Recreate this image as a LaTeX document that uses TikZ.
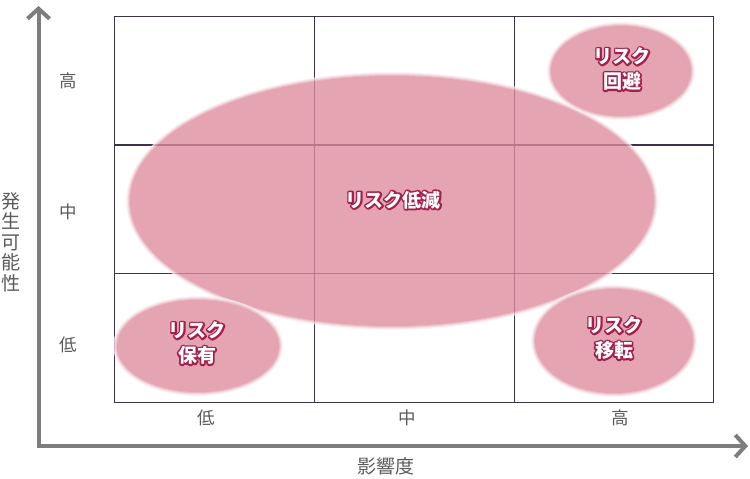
\documentclass[tikz,border=0pt]{standalone}
\usepackage{fontspec}
\setmainfont{Noto Sans CJK JP}
\usetikzlibrary{arrows.meta,calc}
\definecolor{gridc}{RGB}{61,51,73}
\definecolor{axisc}{RGB}{125,125,125}
\definecolor{pinkc}{RGB}{220,139,156}
\definecolor{txtc}{RGB}{90,90,90}
\tikzset{
  gridline/.style={draw=gridc, line width=0.9pt},
  axisline/.style={draw=axisc, line width=4pt, -{Straight Barb[length=10pt,width=22pt,line width=4pt]}},
  ticklab/.style={text=txtc, font=\fontsize{17.5}{20}\selectfont, inner sep=0pt},
  titlelab/.style={text=txtc, font=\fontsize{19}{20.5}\selectfont, inner sep=0pt, align=center},
  risklab/.style={align=center, text=white, font=\bfseries\fontsize{19}{25}\selectfont, inner sep=0pt},
  riskglow/.style={risklab},
}
\newcommand{\strk}[1]{\special{pdf:literal direct 1 Tr 3.4 w 1 j 0.64 0.12 0.30 RG}#1\special{pdf:literal direct 0 Tr}}
\newcommand{\softellipse}[3]{%
  \begin{scope}[transparency group, opacity=0.78]
    \fill[pinkc!12] #1 ellipse [x radius=#2+4pt, y radius=#3+4pt];
    \fill[pinkc!30] #1 ellipse [x radius=#2+3pt, y radius=#3+3pt];
    \fill[pinkc!52] #1 ellipse [x radius=#2+2pt, y radius=#3+2pt];
    \fill[pinkc!76] #1 ellipse [x radius=#2+1pt, y radius=#3+1pt];
    \fill[pinkc] #1 ellipse [x radius=#2, y radius=#3];
  \end{scope}}
\begin{document}
\begin{tikzpicture}[x=1pt,y=-1pt]
\useasboundingbox (0,0) rectangle (750,479);
% grid
\draw[gridline] (114,16) rectangle (713,402);
\draw[gridline] (314,16) -- (314,402);
\draw[gridline] (514,16) -- (514,402);
\draw[gridline, line width=1.8pt] (114,145) -- (713,145);
\draw[gridline] (114,273) -- (713,273);
% ellipses
\softellipse{(392,201)}{262pt}{125pt}
\softellipse{(621,71)}{70pt}{45pt}
\softellipse{(198,346)}{81pt}{46pt}
\softellipse{(614,341)}{79pt}{52pt}
% label outlines
\node[riskglow] (gred) at (393,200) {\strk{リスク低減}};
\node[riskglow] (gavo) at (622,69) {\strk{リスク}\\\strk{回避}};
\node[riskglow] (gret) at (197,343) {\strk{リスク}\\\strk{保有}};
\node[riskglow] (gtra) at (614,338) {\strk{リスク}\\\strk{移転}};
% labels
\node[risklab] (lred) at (gred) {リスク低減};
\node[risklab] (lavo) at (gavo) {リスク\\回避};
\node[risklab] (lret) at (gret) {リスク\\保有};
\node[risklab] (ltra) at (gtra) {リスク\\移転};
% axes
\coordinate (org) at (38.5,446);
\coordinate (ytip) at (38.5,6);
\coordinate (xtip) at (748,446);
\draw[axisline] ([yshift=-2pt]org) -- (ytip);
\draw[axisline] ([xshift=-2pt]org) -- (xtip);
% tick labels
\node[ticklab] (yh) at (68,81) {高};
\node[ticklab] (ym) at (68,212) {中};
\node[ticklab] (yl) at (68,345) {低};
\node[ticklab] (xl) at (206,418) {低};
\node[ticklab] (xm) at (407,418) {中};
\node[ticklab] (xh) at (620,418) {高};
% axis titles
\node[titlelab] (ytitle) at (11,242) {発\\生\\可\\能\\性};
\node[titlelab] (xtitle) at (386,466) {影響度};
\end{tikzpicture}
\end{document}
